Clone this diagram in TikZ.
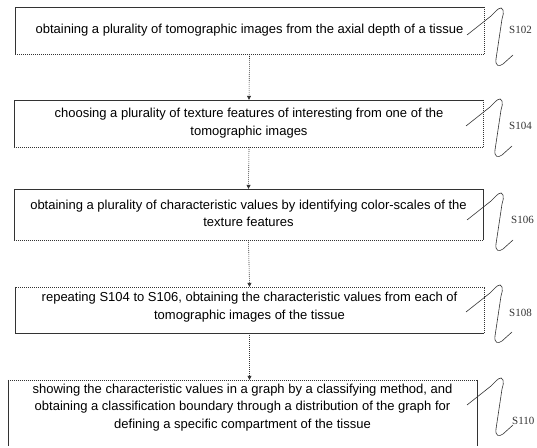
\documentclass[tikz,border=0pt]{standalone}
\usepackage{fontspec}
\setmainfont{Liberation Sans}
\newfontfamily\labelfont{Liberation Serif}
\usetikzlibrary{arrows.meta}
\definecolor{ink}{HTML}{333333}
\tikzset{
  solidedge/.style={draw=ink, line width=0.6pt},
  dotedge/.style={draw=ink, line width=0.6pt, dash pattern=on 1pt off 1pt},
  boxtext/.style={font=\fontsize{13}{17.5}\selectfont, align=center, text=black, inner sep=0pt},
  boxframe/.style={draw=none, inner sep=0pt, minimum width=469pt},
  flow/.style={draw=ink, line width=0.6pt, dash pattern=on 1pt off 1pt, -{Triangle[length=4pt,width=4pt]}},
  steplabel/.style={font=\labelfont\fontsize{11}{13}\selectfont, anchor=west, inner sep=0pt, text=ink},
  sq/.style={draw=ink, line width=0.6pt},
  pics/squig/.style={code={
    \draw[sq] (0,0) -- (24,-19) .. controls (30,-25) and (34,-30) .. (36,-25)
      .. controls (37,-22) and (36,-20) .. (35,-16) -- (29,24)
      .. controls (28,31) and (32,32) .. (36,29) -- (46,20);
  }}
}
\begin{document}
\begin{tikzpicture}[x=1pt,y=-1pt]
\useasboundingbox (0,0) rectangle (537,447);

% boxes (frames)
\node[boxframe, minimum height=47pt] (b1) at (249.5,30.5) {};
\node[boxframe, minimum height=47pt] (b2) at (249,123.5) {};
\node[boxframe, minimum height=51pt] (b3) at (248.5,214.5) {};
\node[boxframe, minimum height=46pt] (b4) at (249.5,310) {};
\node[boxframe, minimum height=66pt] (b5) at (242.5,413) {};

% box 1
\draw[solidedge] (b1.south west) -- (b1.north west) -- (b1.north east);
\draw[dotedge] (b1.north east) -- (b1.south east) -- (b1.south west);
% box 2
\draw[solidedge] (b2.south west) -- (b2.north west) -- (b2.north east);
\draw[dotedge] (b2.north east) -- (b2.south east) -- (b2.south west);
% box 3
\draw[solidedge] (b3.south east) -- (b3.north east) -- (b3.north west) -- (b3.south west);
\draw[dotedge] (b3.south west) -- (b3.south east);
% box 4
\draw[dotedge] (b4.south east) -- (b4.north east) -- (b4.north west);
\draw[solidedge] (b4.north west) -- (b4.south west) -- (b4.south east);
% box 5
\draw[dotedge] (b5.north west) -- (b5.north east);
\draw[solidedge] (b5.north west) -- (b5.south west);
\draw[solidedge] (b5.north east) -- (b5.south east);

% texts
\node[boxtext] (t1) at (249.5,30.5) {obtaining a plurality of tomographic images from the axial depth of a tissue};
\node[boxtext] (t2) at (249,123) {choosing a plurality of texture features of interesting from one of the\\tomographic images};
\node[boxtext] (t3) at (248.5,213.5) {obtaining a plurality of characteristic values by identifying color-scales of the\\texture features};
\node[boxtext] (t4) at (249.5,307) {repeating S104 to S106, obtaining the characteristic values from each of\\tomographic images of the tissue};
\node[boxtext] (t5) at (242.5,407.5) {showing the characteristic values in a graph by a classifying method, and\\obtaining a classification boundary through a distribution of the graph for\\defining a specific compartment of the tissue};

% connectors
\draw[flow] (b1.south) -- (b2.north);
\draw[flow] (b2.south) -- (b3.north);
\draw[flow] (b3.south) -- (b4.north);
\draw[flow] (b4.south) -- (b4.south |- b5.north);

% step labels with squiggles
\pic at (467,35) {squig};
\node[steplabel] (s1) at (509,30) {S102};
\pic at (466,126) {squig};
\node[steplabel] (s2) at (509,126) {S104};
\pic at (467,220) {squig};
\node[steplabel] (s3) at (511,220) {S106};
\pic at (466,312) {squig};
\node[steplabel] (s4) at (509,313) {S108};
\pic at (467,405) {squig};
\node[steplabel] (s5) at (512,421) {S110};
\end{tikzpicture}
\end{document}
